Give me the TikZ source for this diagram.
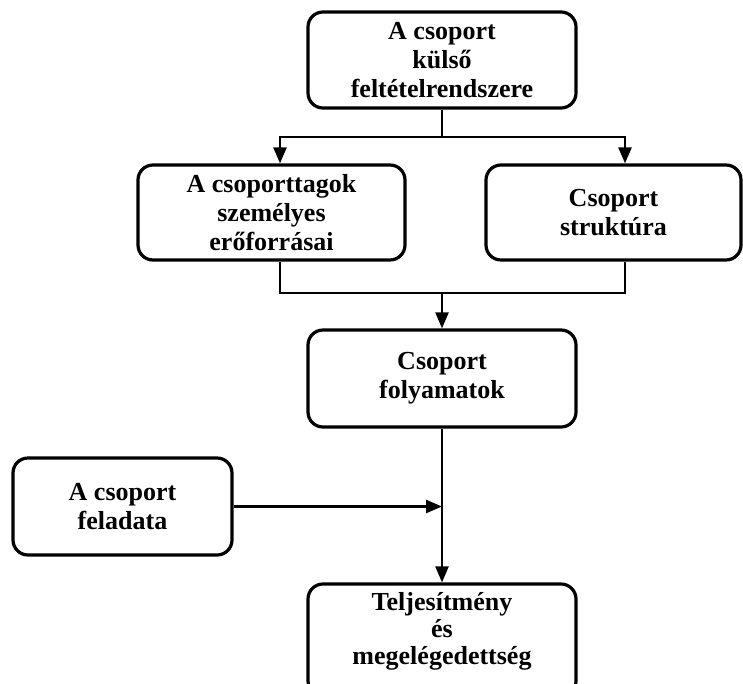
\documentclass[tikz,border=0pt]{standalone}
\usepackage{fontspec}
\setmainfont{Liberation Serif}
\usetikzlibrary{arrows.meta}
\begin{document}
\begin{tikzpicture}[x=1pt,y=-1pt,
  box/.style={draw=black, line width=3.2pt, rounded corners=15pt, align=center,
    inner sep=0pt, font=\bfseries\fontsize{26}{29}\selectfont},
  txt/.style={align=center, inner sep=0pt, font=\bfseries\fontsize{26}{27}\selectfont},
  conn/.style={draw=black, line width=2.4pt},
  arr/.style={conn, -{Triangle[length=16pt,width=13pt]}}]
\useasboundingbox (0,0) rectangle (743,683);
\fill[white] (0,0) rectangle (743,683);
\begin{scope}
\clip (0,0) rectangle (743,683);
% boxes
\node[box, minimum width=268pt, minimum height=96pt] (top) at (442,60)
  {A csoport\\külső\\feltételrendszere};
\node[box, minimum width=267pt, minimum height=95pt] (left) at (271.5,212.5)
  {A csoporttagok\\személyes\\erőforrásai};
\node[box, minimum width=255pt, minimum height=95pt] (right) at (613.5,212.5)
  {Csoport\\struktúra};
\node[box, minimum width=268pt, minimum height=97pt] (mid) at (442,378.5)
  {Csoport\\folyamatok};
\node[box, minimum width=219pt, minimum height=97pt] (task) at (122.5,506.5)
  {A csoport\\feladata};
\node[box, minimum width=268pt, minimum height=112pt] (bot) at (442,640) {};
\node[txt] (bottxt) at (442,631.5) {Teljesítmény\\és\\megelégedettség};
% junction coordinates
\coordinate (jt) at (442,137);
\coordinate (jl) at (280,137);
\coordinate (jr) at (625,137);
\coordinate (jm) at (442,293);
% connectors
\draw[conn] (top.south) -- (jt);
\draw[arr] (jt) -| (jl |- left.north);
\draw[arr] (jt) -| (jr |- right.north);
\draw[conn] (jl |- left.south) |- (jm);
\draw[conn] (jr |- right.south) |- (jm);
\draw[arr] (jm) -- (mid.north);
\draw[arr] (mid.south) -- (bot.north);
\draw[arr] (task.east) -- (task.east -| mid.south);
\end{scope}
\end{tikzpicture}
\end{document}
